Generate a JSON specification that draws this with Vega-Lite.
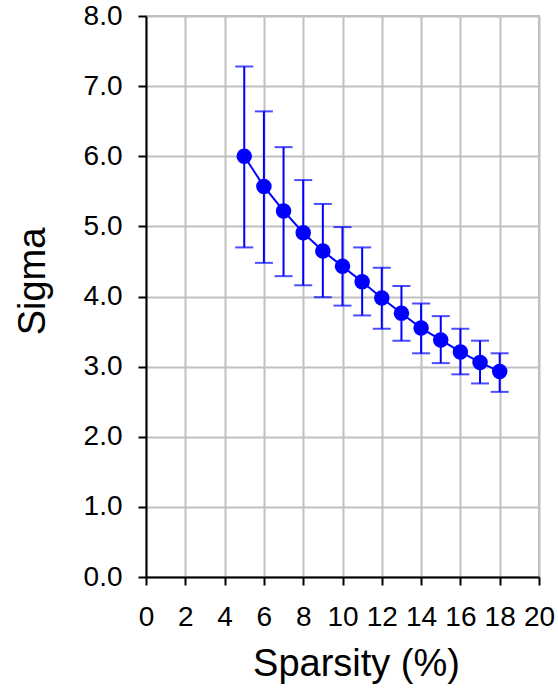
{
  "$schema": "https://vega.github.io/schema/vega-lite/v6.json",
  "width": 393,
  "height": 561,
  "autosize": "none",
  "padding": {"left": 146, "top": 16, "right": 19, "bottom": 114},
  "background": "white",
  "config": {
    "view": {"stroke": "#c0c0c0", "strokeWidth": 2}
  },
  "data": {
    "values": [
      {"s": 5, "m": 6.0, "lo": 4.70, "hi": 7.28},
      {"s": 6, "m": 5.57, "lo": 4.48, "hi": 6.64},
      {"s": 7, "m": 5.22, "lo": 4.29, "hi": 6.13},
      {"s": 8, "m": 4.91, "lo": 4.16, "hi": 5.66},
      {"s": 9, "m": 4.65, "lo": 3.99, "hi": 5.32},
      {"s": 10, "m": 4.43, "lo": 3.87, "hi": 4.99},
      {"s": 11, "m": 4.21, "lo": 3.73, "hi": 4.70},
      {"s": 12, "m": 3.98, "lo": 3.54, "hi": 4.41},
      {"s": 13, "m": 3.76, "lo": 3.37, "hi": 4.15},
      {"s": 14, "m": 3.55, "lo": 3.19, "hi": 3.90},
      {"s": 15, "m": 3.38, "lo": 3.05, "hi": 3.72},
      {"s": 16, "m": 3.21, "lo": 2.89, "hi": 3.54},
      {"s": 17, "m": 3.06, "lo": 2.76, "hi": 3.37},
      {"s": 18, "m": 2.93, "lo": 2.64, "hi": 3.19}
    ]
  },
  "encoding": {
    "x": {
      "field": "s", "type": "quantitative",
      "scale": {"domain": [0, 20], "nice": false},
      "axis": {
        "values": [0,2,4,6,8,10,12,14,16,18,20], "title": "Sparsity (%)",
        "labelFlush": false, "labelOverlap": false, "labelBound": false,
        "labelFont": "Liberation Sans", "titleFont": "Liberation Sans",
        "labelFontSize": 28, "titleFontSize": 38, "titleFontWeight": "normal",
        "labelColor": "black", "titleColor": "black",
        "domainColor": "black", "domainWidth": 2,
        "tickColor": "black", "tickWidth": 2, "tickSize": 8,
        "gridColor": "#c0c0c0", "gridWidth": 2, "gridOpacity": 1,
        "labelPadding": 18, "titlePadding": 14, "titleX": 210
      }
    }
  },
  "layer": [
    {
      "mark": {"type": "rule", "color": "#0000ff", "strokeWidth": 2},
      "encoding": {
        "y": {
          "field": "lo", "type": "quantitative",
          "scale": {"domain": [0, 8], "nice": false},
          "axis": {
            "values": [0,1,2,3,4,5,6,7,8], "format": ".1f", "title": "Sigma",
            "labelFlush": false, "labelOverlap": false, "labelBound": false,
            "labelFont": "Liberation Sans", "titleFont": "Liberation Sans",
            "labelFontSize": 28, "titleFontSize": 38, "titleFontWeight": "normal",
            "labelColor": "black", "titleColor": "black",
            "domainColor": "black", "domainWidth": 2,
            "tickColor": "black", "tickWidth": 2, "tickSize": 8,
            "gridColor": "#c0c0c0", "gridWidth": 2, "gridOpacity": 1,
            "labelPadding": 16, "titlePadding": 31, "titleY": 265
          }
        },
        "y2": {"field": "hi"}
      }
    },
    {
      "mark": {"type": "tick", "color": "#0000ff", "orient": "horizontal", "thickness": 2, "size": 18},
      "encoding": {"y": {"field": "lo", "type": "quantitative"}}
    },
    {
      "mark": {"type": "tick", "color": "#0000ff", "orient": "horizontal", "thickness": 2, "size": 18},
      "encoding": {"y": {"field": "hi", "type": "quantitative"}}
    },
    {
      "mark": {"type": "line", "color": "#0000ff", "strokeWidth": 2},
      "encoding": {"y": {"field": "m", "type": "quantitative"}}
    },
    {
      "mark": {"type": "point", "filled": true, "shape": "circle", "color": "#0000ff", "size": 240, "opacity": 1},
      "encoding": {"y": {"field": "m", "type": "quantitative"}}
    }
  ]
}
